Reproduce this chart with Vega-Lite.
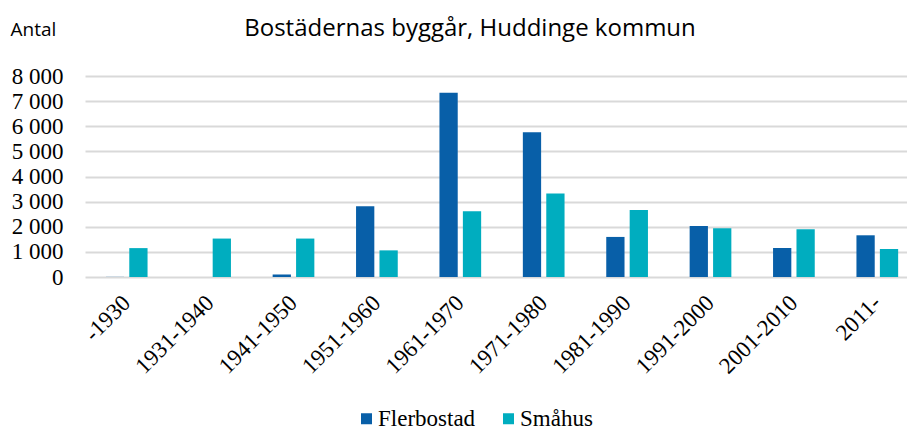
{
  "$schema": "https://vega.github.io/schema/vega-lite/v6.json",
  "width": 822,
  "height": 201,
  "autosize": {"type": "none"},
  "padding": {"left": 85, "top": 76, "right": 0, "bottom": 153},
  "background": "white",
  "config": {
    "locale": {"number": {"decimal": ",", "thousands": " ", "grouping": [3], "currency": ["", " kr"]}},
    "view": {"stroke": null}
  },
  "title": {
    "text": "Bostädernas byggår, Huddinge kommun",
    "font": "Open Sans",
    "fontSize": 24,
    "fontWeight": "normal",
    "color": "#000000",
    "anchor": "middle",
    "frame": "group",
    "baseline": "alphabetic",
    "offset": -40,
    "dx": -26
  },
  "data": {
    "values": [
      {"period": "-1930", "typ": "Flerbostad", "antal": 5},
      {"period": "-1930", "typ": "Småhus", "antal": 1150},
      {"period": "1931-1940", "typ": "Flerbostad", "antal": 0},
      {"period": "1931-1940", "typ": "Småhus", "antal": 1530},
      {"period": "1941-1950", "typ": "Flerbostad", "antal": 100},
      {"period": "1941-1950", "typ": "Småhus", "antal": 1530},
      {"period": "1951-1960", "typ": "Flerbostad", "antal": 2815},
      {"period": "1951-1960", "typ": "Småhus", "antal": 1060},
      {"period": "1961-1970", "typ": "Flerbostad", "antal": 7330},
      {"period": "1961-1970", "typ": "Småhus", "antal": 2615},
      {"period": "1971-1980", "typ": "Flerbostad", "antal": 5765},
      {"period": "1971-1980", "typ": "Småhus", "antal": 3320},
      {"period": "1981-1990", "typ": "Flerbostad", "antal": 1595},
      {"period": "1981-1990", "typ": "Småhus", "antal": 2670},
      {"period": "1991-2000", "typ": "Flerbostad", "antal": 2030},
      {"period": "1991-2000", "typ": "Småhus", "antal": 1940},
      {"period": "2001-2010", "typ": "Flerbostad", "antal": 1155},
      {"period": "2001-2010", "typ": "Småhus", "antal": 1900},
      {"period": "2011-", "typ": "Flerbostad", "antal": 1660},
      {"period": "2011-", "typ": "Småhus", "antal": 1115}
    ]
  },
  "mark": {"type": "bar"},
  "encoding": {
    "x": {
      "field": "period",
      "type": "nominal",
      "sort": null,
      "scale": {"range": [0, 834], "paddingInner": 0.5, "paddingOuter": 0.25},
      "axis": {
        "title": null,
        "labelAngle": -45,
        "labelAlign": "right",
        "labelBaseline": "middle",
        "labelFont": "Liberation Serif",
        "labelFontSize": 23,
        "labelColor": "#000000",
        "labelPadding": 22,
        "labelDx": 3,
        "domain": false,
        "ticks": false,
        "grid": false
      }
    },
    "xOffset": {
      "field": "typ",
      "type": "nominal",
      "scale": {"paddingInner": 0.22, "paddingOuter": 0}
    },
    "y": {
      "field": "antal",
      "type": "quantitative",
      "scale": {"domain": [0, 8000], "nice": false},
      "axis": {
        "values": [0, 1000, 2000, 3000, 4000, 5000, 6000, 7000, 8000],
        "format": ",d",
        "title": "Antal",
        "titleAngle": 0,
        "titleAlign": "left",
        "titleBaseline": "alphabetic",
        "titleX": -75,
        "titleY": -41,
        "titleFont": "Open Sans",
        "titleFontSize": 19,
        "titleFontWeight": "normal",
        "titleColor": "#000000",
        "labelFont": "Liberation Serif",
        "labelFontSize": 23,
        "labelColor": "#000000",
        "labelPadding": 22,
        "domain": false,
        "ticks": false,
        "grid": true,
        "gridColor": "#d9d9d9",
        "gridWidth": 2
      }
    },
    "color": {
      "field": "typ",
      "type": "nominal",
      "scale": {"domain": ["Flerbostad", "Småhus"], "range": ["#085fa8", "#00adbf"]},
      "legend": {
        "title": null,
        "orient": "none",
        "direction": "horizontal",
        "legendX": 270,
        "legendY": 331,
        "symbolType": "square",
        "symbolSize": 121,
        "symbolStrokeWidth": 0,
        "labelFont": "Liberation Serif",
        "labelFontSize": 23,
        "labelColor": "#000000",
        "labelOffset": 0,
        "columnPadding": 21
      }
    }
  }
}
